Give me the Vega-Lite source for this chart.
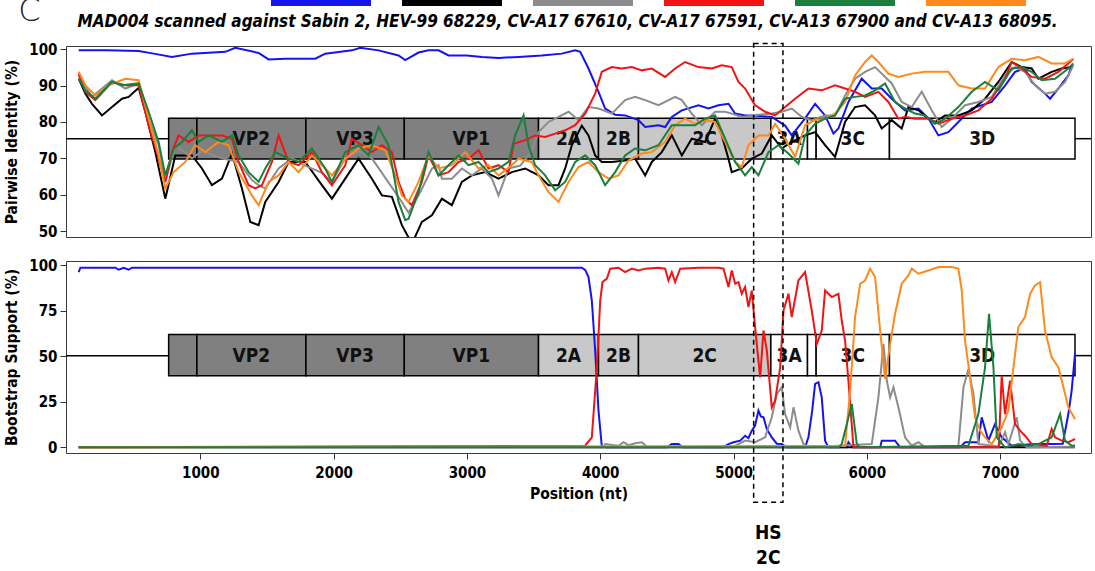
{
"$schema": "https://vega.github.io/schema/vega-lite/v6.json",
"padding": {"left": 4, "right": 2, "top": -5, "bottom": 4},
"title": {"text": "C", "anchor": "start", "frame": "bounds", "fontSize": 32, "fontWeight": 300, "font": "DejaVu Sans", "color": "#222", "dx": 14, "dy": 33, "offset": 0},
"spacing": 24,
"bounds": "flush",
"resolve": {"scale": {"x": "independent", "y": "independent"}},
"config": {
  "font": "DejaVu Sans Condensed",
  "view": {"stroke": "#3a3a3a", "strokeWidth": 1},
  "axis": {"grid": false, "domain": false, "labelFontSize": 15, "labelFontWeight": "bold", "labelColor": "#000", "titleFontSize": 15.5, "titleFontWeight": "bold", "titleColor": "#000", "tickColor": "#333", "tickSize": 6, "tickWidth": 1, "labelPadding": 3},
  "axisY": {"titlePadding": 9},
  "axisX": {"titlePadding": 6, "labelPadding": 6},
  "title": {"color": "#000"}
},
"datasets": {
  "genes": [
    {"gene": "VP4", "start": 762, "end": 974, "region": "P1"},
    {"gene": "VP2", "start": 974, "end": 1792, "region": "P1"},
    {"gene": "VP3", "start": 1792, "end": 2530, "region": "P1"},
    {"gene": "VP1", "start": 2530, "end": 3537, "region": "P1"},
    {"gene": "2A", "start": 3537, "end": 3987, "region": "P2"},
    {"gene": "2B", "start": 3987, "end": 4287, "region": "P2"},
    {"gene": "2C", "start": 4287, "end": 5280, "region": "P2"},
    {"gene": "3A", "start": 5280, "end": 5555, "region": "P3"},
    {"gene": "3B", "start": 5555, "end": 5620, "region": "P3"},
    {"gene": "3C", "start": 5620, "end": 6170, "region": "P3"},
    {"gene": "3D", "start": 6170, "end": 7562, "region": "P3"}
  ],
  "backbone": [{"from": -8, "to": 762}, {"from": 7562, "to": 7682}],
  "hotspot": [{"region": "HS 2C", "start": 5151, "end": 5371}],
  "identity": [
    {"series":"Sabin 2","nt":87,"pct":99.7},{"series":"Sabin 2","nt":300,"pct":99.7},{"series":"Sabin 2","nt":537,"pct":99.5},{"series":"Sabin 2","nt":650,"pct":98.8},{"series":"Sabin 2","nt":787,"pct":97.9},{"series":"Sabin 2","nt":937,"pct":98.8},{"series":"Sabin 2","nt":1187,"pct":99.3},{"series":"Sabin 2","nt":1262,"pct":100.4},{"series":"Sabin 2","nt":1437,"pct":99.0},{"series":"Sabin 2","nt":1512,"pct":97.2},{"series":"Sabin 2","nt":1637,"pct":97.4},{"series":"Sabin 2","nt":1862,"pct":97.4},{"series":"Sabin 2","nt":1937,"pct":98.8},{"series":"Sabin 2","nt":2137,"pct":99.7},{"series":"Sabin 2","nt":2200,"pct":100.4},{"series":"Sabin 2","nt":2337,"pct":99.7},{"series":"Sabin 2","nt":2487,"pct":98.3},{"series":"Sabin 2","nt":2537,"pct":97.0},{"series":"Sabin 2","nt":2637,"pct":99.1},{"series":"Sabin 2","nt":2712,"pct":99.7},{"series":"Sabin 2","nt":2787,"pct":99.7},{"series":"Sabin 2","nt":2862,"pct":98.3},{"series":"Sabin 2","nt":3000,"pct":98.3},{"series":"Sabin 2","nt":3112,"pct":97.9},{"series":"Sabin 2","nt":3237,"pct":97.6},{"series":"Sabin 2","nt":3387,"pct":97.9},{"series":"Sabin 2","nt":3562,"pct":98.3},{"series":"Sabin 2","nt":3712,"pct":98.8},{"series":"Sabin 2","nt":3812,"pct":99.7},{"series":"Sabin 2","nt":3850,"pct":99.3},{"series":"Sabin 2","nt":3912,"pct":94.7},{"series":"Sabin 2","nt":3987,"pct":88.3},{"series":"Sabin 2","nt":4037,"pct":83.7},{"series":"Sabin 2","nt":4112,"pct":82.0},{"series":"Sabin 2","nt":4187,"pct":81.8},{"series":"Sabin 2","nt":4287,"pct":80.5},{"series":"Sabin 2","nt":4337,"pct":78.6},{"series":"Sabin 2","nt":4437,"pct":79.1},{"series":"Sabin 2","nt":4487,"pct":78.6},{"series":"Sabin 2","nt":4537,"pct":81.4},{"series":"Sabin 2","nt":4612,"pct":83.2},{"series":"Sabin 2","nt":4737,"pct":84.6},{"series":"Sabin 2","nt":4812,"pct":83.7},{"series":"Sabin 2","nt":4887,"pct":84.6},{"series":"Sabin 2","nt":4962,"pct":85.0},{"series":"Sabin 2","nt":5012,"pct":82.3},{"series":"Sabin 2","nt":5087,"pct":81.8},{"series":"Sabin 2","nt":5137,"pct":81.8},{"series":"Sabin 2","nt":5287,"pct":81.4},{"series":"Sabin 2","nt":5387,"pct":79.0},{"series":"Sabin 2","nt":5437,"pct":76.3},{"series":"Sabin 2","nt":5537,"pct":81.0},{"series":"Sabin 2","nt":5612,"pct":85.0},{"series":"Sabin 2","nt":5687,"pct":81.8},{"series":"Sabin 2","nt":5750,"pct":76.8},{"series":"Sabin 2","nt":5787,"pct":78.2},{"series":"Sabin 2","nt":5862,"pct":85.5},{"series":"Sabin 2","nt":5962,"pct":91.9},{"series":"Sabin 2","nt":6037,"pct":89.2},{"series":"Sabin 2","nt":6112,"pct":89.2},{"series":"Sabin 2","nt":6187,"pct":86.4},{"series":"Sabin 2","nt":6287,"pct":83.2},{"series":"Sabin 2","nt":6387,"pct":83.7},{"series":"Sabin 2","nt":6462,"pct":81.0},{"series":"Sabin 2","nt":6537,"pct":76.3},{"series":"Sabin 2","nt":6612,"pct":77.2},{"series":"Sabin 2","nt":6687,"pct":80.0},{"series":"Sabin 2","nt":6787,"pct":83.7},{"series":"Sabin 2","nt":6937,"pct":85.5},{"series":"Sabin 2","nt":7037,"pct":90.0},{"series":"Sabin 2","nt":7112,"pct":93.8},{"series":"Sabin 2","nt":7187,"pct":94.7},{"series":"Sabin 2","nt":7237,"pct":91.0},{"series":"Sabin 2","nt":7337,"pct":87.8},{"series":"Sabin 2","nt":7375,"pct":86.4},{"series":"Sabin 2","nt":7437,"pct":89.2},{"series":"Sabin 2","nt":7512,"pct":92.8},{"series":"Sabin 2","nt":7537,"pct":95.6},

    {"series":"HEV-99 68229","nt":87,"pct":91.9},{"series":"HEV-99 68229","nt":137,"pct":87.8},{"series":"HEV-99 68229","nt":187,"pct":85.0},{"series":"HEV-99 68229","nt":262,"pct":81.8},{"series":"HEV-99 68229","nt":337,"pct":84.1},{"series":"HEV-99 68229","nt":412,"pct":86.4},{"series":"HEV-99 68229","nt":462,"pct":86.9},{"series":"HEV-99 68229","nt":537,"pct":89.4},{"series":"HEV-99 68229","nt":587,"pct":82.8},{"series":"HEV-99 68229","nt":662,"pct":71.7},{"series":"HEV-99 68229","nt":737,"pct":58.9},{"series":"HEV-99 68229","nt":812,"pct":70.8},{"series":"HEV-99 68229","nt":937,"pct":70.8},{"series":"HEV-99 68229","nt":1012,"pct":67.2},{"series":"HEV-99 68229","nt":1087,"pct":62.6},{"series":"HEV-99 68229","nt":1162,"pct":64.4},{"series":"HEV-99 68229","nt":1237,"pct":71.3},{"series":"HEV-99 68229","nt":1312,"pct":61.7},{"series":"HEV-99 68229","nt":1375,"pct":52.5},{"series":"HEV-99 68229","nt":1437,"pct":51.6},{"series":"HEV-99 68229","nt":1487,"pct":58.0},{"series":"HEV-99 68229","nt":1587,"pct":63.5},{"series":"HEV-99 68229","nt":1662,"pct":69.0},{"series":"HEV-99 68229","nt":1787,"pct":69.0},{"series":"HEV-99 68229","nt":1912,"pct":62.6},{"series":"HEV-99 68229","nt":1987,"pct":58.9},{"series":"HEV-99 68229","nt":2087,"pct":64.4},{"series":"HEV-99 68229","nt":2187,"pct":69.9},{"series":"HEV-99 68229","nt":2287,"pct":64.4},{"series":"HEV-99 68229","nt":2362,"pct":59.8},{"series":"HEV-99 68229","nt":2437,"pct":59.4},{"series":"HEV-99 68229","nt":2512,"pct":51.6},{"series":"HEV-99 68229","nt":2562,"pct":48.2},{"series":"HEV-99 68229","nt":2600,"pct":47.5},{"series":"HEV-99 68229","nt":2662,"pct":52.5},{"series":"HEV-99 68229","nt":2737,"pct":54.3},{"series":"HEV-99 68229","nt":2812,"pct":58.9},{"series":"HEV-99 68229","nt":2887,"pct":57.1},{"series":"HEV-99 68229","nt":2962,"pct":63.5},{"series":"HEV-99 68229","nt":3037,"pct":65.3},{"series":"HEV-99 68229","nt":3137,"pct":66.2},{"series":"HEV-99 68229","nt":3237,"pct":64.4},{"series":"HEV-99 68229","nt":3337,"pct":66.2},{"series":"HEV-99 68229","nt":3437,"pct":67.2},{"series":"HEV-99 68229","nt":3537,"pct":65.3},{"series":"HEV-99 68229","nt":3612,"pct":62.6},{"series":"HEV-99 68229","nt":3687,"pct":62.6},{"series":"HEV-99 68229","nt":3737,"pct":67.2},{"series":"HEV-99 68229","nt":3787,"pct":73.6},{"series":"HEV-99 68229","nt":3862,"pct":79.0},{"series":"HEV-99 68229","nt":3912,"pct":76.3},{"series":"HEV-99 68229","nt":3962,"pct":70.8},{"series":"HEV-99 68229","nt":4012,"pct":69.0},{"series":"HEV-99 68229","nt":4087,"pct":69.0},{"series":"HEV-99 68229","nt":4187,"pct":69.4},{"series":"HEV-99 68229","nt":4262,"pct":69.9},{"series":"HEV-99 68229","nt":4337,"pct":65.3},{"series":"HEV-99 68229","nt":4387,"pct":69.0},{"series":"HEV-99 68229","nt":4462,"pct":71.7},{"series":"HEV-99 68229","nt":4537,"pct":76.3},{"series":"HEV-99 68229","nt":4612,"pct":70.8},{"series":"HEV-99 68229","nt":4687,"pct":75.4},{"series":"HEV-99 68229","nt":4787,"pct":74.5},{"series":"HEV-99 68229","nt":4862,"pct":80.9},{"series":"HEV-99 68229","nt":4912,"pct":76.3},{"series":"HEV-99 68229","nt":4962,"pct":69.9},{"series":"HEV-99 68229","nt":4987,"pct":66.2},{"series":"HEV-99 68229","nt":5062,"pct":67.2},{"series":"HEV-99 68229","nt":5137,"pct":69.9},{"series":"HEV-99 68229","nt":5212,"pct":71.3},{"series":"HEV-99 68229","nt":5287,"pct":76.3},{"series":"HEV-99 68229","nt":5362,"pct":72.7},{"series":"HEV-99 68229","nt":5437,"pct":74.5},{"series":"HEV-99 68229","nt":5537,"pct":76.3},{"series":"HEV-99 68229","nt":5612,"pct":77.2},{"series":"HEV-99 68229","nt":5687,"pct":73.6},{"series":"HEV-99 68229","nt":5762,"pct":70.4},{"series":"HEV-99 68229","nt":5837,"pct":80.0},{"series":"HEV-99 68229","nt":5912,"pct":84.1},{"series":"HEV-99 68229","nt":5987,"pct":84.6},{"series":"HEV-99 68229","nt":6062,"pct":81.8},{"series":"HEV-99 68229","nt":6112,"pct":78.2},{"series":"HEV-99 68229","nt":6187,"pct":80.5},{"series":"HEV-99 68229","nt":6262,"pct":78.2},{"series":"HEV-99 68229","nt":6312,"pct":84.1},{"series":"HEV-99 68229","nt":6387,"pct":83.2},{"series":"HEV-99 68229","nt":6462,"pct":80.9},{"series":"HEV-99 68229","nt":6512,"pct":80.0},{"series":"HEV-99 68229","nt":6587,"pct":81.8},{"series":"HEV-99 68229","nt":6687,"pct":81.8},{"series":"HEV-99 68229","nt":6787,"pct":83.2},{"series":"HEV-99 68229","nt":6887,"pct":86.4},{"series":"HEV-99 68229","nt":6987,"pct":91.0},{"series":"HEV-99 68229","nt":7087,"pct":96.5},{"series":"HEV-99 68229","nt":7162,"pct":95.1},{"series":"HEV-99 68229","nt":7237,"pct":94.7},{"series":"HEV-99 68229","nt":7287,"pct":91.9},{"series":"HEV-99 68229","nt":7387,"pct":93.8},{"series":"HEV-99 68229","nt":7462,"pct":94.7},{"series":"HEV-99 68229","nt":7537,"pct":95.1},

    {"series":"CV-A17 67610","nt":87,"pct":92.8},{"series":"CV-A17 67610","nt":187,"pct":86.9},{"series":"CV-A17 67610","nt":337,"pct":91.5},{"series":"CV-A17 67610","nt":437,"pct":89.2},{"series":"CV-A17 67610","nt":537,"pct":90.6},{"series":"CV-A17 67610","nt":612,"pct":80.9},{"series":"CV-A17 67610","nt":687,"pct":73.6},{"series":"CV-A17 67610","nt":737,"pct":63.5},{"series":"CV-A17 67610","nt":812,"pct":73.6},{"series":"CV-A17 67610","nt":937,"pct":70.0},{"series":"CV-A17 67610","nt":1012,"pct":72.0},{"series":"CV-A17 67610","nt":1162,"pct":70.0},{"series":"CV-A17 67610","nt":1287,"pct":69.0},{"series":"CV-A17 67610","nt":1387,"pct":64.0},{"series":"CV-A17 67610","nt":1437,"pct":62.6},{"series":"CV-A17 67610","nt":1487,"pct":61.7},{"series":"CV-A17 67610","nt":1587,"pct":67.2},{"series":"CV-A17 67610","nt":1687,"pct":70.0},{"series":"CV-A17 67610","nt":1787,"pct":68.0},{"series":"CV-A17 67610","nt":1912,"pct":66.0},{"series":"CV-A17 67610","nt":1987,"pct":63.5},{"series":"CV-A17 67610","nt":2087,"pct":70.0},{"series":"CV-A17 67610","nt":2187,"pct":72.0},{"series":"CV-A17 67610","nt":2287,"pct":70.0},{"series":"CV-A17 67610","nt":2362,"pct":66.0},{"series":"CV-A17 67610","nt":2437,"pct":62.0},{"series":"CV-A17 67610","nt":2512,"pct":58.0},{"series":"CV-A17 67610","nt":2562,"pct":55.0},{"series":"CV-A17 67610","nt":2637,"pct":59.8},{"series":"CV-A17 67610","nt":2687,"pct":63.5},{"series":"CV-A17 67610","nt":2737,"pct":67.2},{"series":"CV-A17 67610","nt":2787,"pct":68.1},{"series":"CV-A17 67610","nt":2812,"pct":64.4},{"series":"CV-A17 67610","nt":2887,"pct":64.4},{"series":"CV-A17 67610","nt":2962,"pct":67.2},{"series":"CV-A17 67610","nt":3037,"pct":65.3},{"series":"CV-A17 67610","nt":3112,"pct":67.2},{"series":"CV-A17 67610","nt":3187,"pct":64.4},{"series":"CV-A17 67610","nt":3237,"pct":59.8},{"series":"CV-A17 67610","nt":3312,"pct":67.2},{"series":"CV-A17 67610","nt":3400,"pct":68.0},{"series":"CV-A17 67610","nt":3487,"pct":72.0},{"series":"CV-A17 67610","nt":3537,"pct":77.2},{"series":"CV-A17 67610","nt":3612,"pct":80.0},{"series":"CV-A17 67610","nt":3662,"pct":80.9},{"series":"CV-A17 67610","nt":3762,"pct":82.8},{"series":"CV-A17 67610","nt":3837,"pct":80.5},{"series":"CV-A17 67610","nt":3912,"pct":84.1},{"series":"CV-A17 67610","nt":3987,"pct":83.7},{"series":"CV-A17 67610","nt":4087,"pct":82.3},{"series":"CV-A17 67610","nt":4187,"pct":86.0},{"series":"CV-A17 67610","nt":4262,"pct":86.9},{"series":"CV-A17 67610","nt":4337,"pct":86.0},{"series":"CV-A17 67610","nt":4437,"pct":84.6},{"series":"CV-A17 67610","nt":4562,"pct":86.9},{"series":"CV-A17 67610","nt":4612,"pct":86.0},{"series":"CV-A17 67610","nt":4687,"pct":82.3},{"series":"CV-A17 67610","nt":4762,"pct":79.1},{"series":"CV-A17 67610","nt":4862,"pct":82.8},{"series":"CV-A17 67610","nt":4937,"pct":82.8},{"series":"CV-A17 67610","nt":4987,"pct":82.3},{"series":"CV-A17 67610","nt":5062,"pct":81.4},{"series":"CV-A17 67610","nt":5187,"pct":82.0},{"series":"CV-A17 67610","nt":5287,"pct":82.3},{"series":"CV-A17 67610","nt":5362,"pct":82.8},{"series":"CV-A17 67610","nt":5437,"pct":83.7},{"series":"CV-A17 67610","nt":5512,"pct":81.4},{"series":"CV-A17 67610","nt":5587,"pct":80.5},{"series":"CV-A17 67610","nt":5687,"pct":81.8},{"series":"CV-A17 67610","nt":5762,"pct":81.8},{"series":"CV-A17 67610","nt":5837,"pct":87.3},{"series":"CV-A17 67610","nt":5912,"pct":91.9},{"series":"CV-A17 67610","nt":5987,"pct":93.8},{"series":"CV-A17 67610","nt":6062,"pct":95.1},{"series":"CV-A17 67610","nt":6112,"pct":93.3},{"series":"CV-A17 67610","nt":6187,"pct":90.6},{"series":"CV-A17 67610","nt":6262,"pct":85.5},{"series":"CV-A17 67610","nt":6337,"pct":84.1},{"series":"CV-A17 67610","nt":6412,"pct":88.3},{"series":"CV-A17 67610","nt":6487,"pct":83.2},{"series":"CV-A17 67610","nt":6562,"pct":78.6},{"series":"CV-A17 67610","nt":6637,"pct":80.9},{"series":"CV-A17 67610","nt":6737,"pct":84.6},{"series":"CV-A17 67610","nt":6837,"pct":85.5},{"series":"CV-A17 67610","nt":6937,"pct":86.9},{"series":"CV-A17 67610","nt":7037,"pct":92.8},{"series":"CV-A17 67610","nt":7112,"pct":95.1},{"series":"CV-A17 67610","nt":7187,"pct":93.8},{"series":"CV-A17 67610","nt":7262,"pct":90.1},{"series":"CV-A17 67610","nt":7337,"pct":87.8},{"series":"CV-A17 67610","nt":7412,"pct":88.3},{"series":"CV-A17 67610","nt":7487,"pct":91.0},{"series":"CV-A17 67610","nt":7550,"pct":95.6},

    {"series":"CV-A17 67591","nt":87,"pct":93.3},{"series":"CV-A17 67591","nt":137,"pct":88.3},{"series":"CV-A17 67591","nt":212,"pct":86.0},{"series":"CV-A17 67591","nt":337,"pct":91.0},{"series":"CV-A17 67591","nt":437,"pct":90.1},{"series":"CV-A17 67591","nt":537,"pct":90.1},{"series":"CV-A17 67591","nt":612,"pct":79.1},{"series":"CV-A17 67591","nt":687,"pct":69.9},{"series":"CV-A17 67591","nt":737,"pct":63.5},{"series":"CV-A17 67591","nt":787,"pct":71.7},{"series":"CV-A17 67591","nt":837,"pct":76.3},{"series":"CV-A17 67591","nt":912,"pct":74.5},{"series":"CV-A17 67591","nt":987,"pct":76.3},{"series":"CV-A17 67591","nt":1087,"pct":76.3},{"series":"CV-A17 67591","nt":1162,"pct":76.3},{"series":"CV-A17 67591","nt":1237,"pct":75.4},{"series":"CV-A17 67591","nt":1287,"pct":69.0},{"series":"CV-A17 67591","nt":1362,"pct":62.6},{"series":"CV-A17 67591","nt":1412,"pct":61.7},{"series":"CV-A17 67591","nt":1462,"pct":62.6},{"series":"CV-A17 67591","nt":1537,"pct":69.0},{"series":"CV-A17 67591","nt":1587,"pct":76.3},{"series":"CV-A17 67591","nt":1662,"pct":69.0},{"series":"CV-A17 67591","nt":1737,"pct":68.1},{"series":"CV-A17 67591","nt":1837,"pct":71.7},{"series":"CV-A17 67591","nt":1912,"pct":66.2},{"series":"CV-A17 67591","nt":1987,"pct":62.6},{"series":"CV-A17 67591","nt":2087,"pct":68.1},{"series":"CV-A17 67591","nt":2137,"pct":75.4},{"series":"CV-A17 67591","nt":2212,"pct":73.6},{"series":"CV-A17 67591","nt":2287,"pct":71.7},{"series":"CV-A17 67591","nt":2362,"pct":73.6},{"series":"CV-A17 67591","nt":2437,"pct":71.7},{"series":"CV-A17 67591","nt":2487,"pct":63.5},{"series":"CV-A17 67591","nt":2537,"pct":58.9},{"series":"CV-A17 67591","nt":2587,"pct":57.1},{"series":"CV-A17 67591","nt":2662,"pct":63.5},{"series":"CV-A17 67591","nt":2712,"pct":70.8},{"series":"CV-A17 67591","nt":2787,"pct":65.3},{"series":"CV-A17 67591","nt":2862,"pct":66.2},{"series":"CV-A17 67591","nt":2937,"pct":69.0},{"series":"CV-A17 67591","nt":3012,"pct":69.9},{"series":"CV-A17 67591","nt":3087,"pct":72.2},{"series":"CV-A17 67591","nt":3162,"pct":67.2},{"series":"CV-A17 67591","nt":3237,"pct":68.1},{"series":"CV-A17 67591","nt":3312,"pct":66.2},{"series":"CV-A17 67591","nt":3350,"pct":74.0},{"series":"CV-A17 67591","nt":3437,"pct":75.0},{"series":"CV-A17 67591","nt":3512,"pct":76.3},{"series":"CV-A17 67591","nt":3587,"pct":75.9},{"series":"CV-A17 67591","nt":3662,"pct":76.8},{"series":"CV-A17 67591","nt":3737,"pct":77.7},{"series":"CV-A17 67591","nt":3812,"pct":79.1},{"series":"CV-A17 67591","nt":3887,"pct":82.3},{"series":"CV-A17 67591","nt":3962,"pct":87.8},{"series":"CV-A17 67591","nt":4012,"pct":93.8},{"series":"CV-A17 67591","nt":4087,"pct":95.1},{"series":"CV-A17 67591","nt":4162,"pct":94.7},{"series":"CV-A17 67591","nt":4237,"pct":95.1},{"series":"CV-A17 67591","nt":4312,"pct":94.2},{"series":"CV-A17 67591","nt":4387,"pct":94.7},{"series":"CV-A17 67591","nt":4487,"pct":92.4},{"series":"CV-A17 67591","nt":4562,"pct":94.7},{"series":"CV-A17 67591","nt":4637,"pct":96.5},{"series":"CV-A17 67591","nt":4737,"pct":95.1},{"series":"CV-A17 67591","nt":4837,"pct":94.7},{"series":"CV-A17 67591","nt":4912,"pct":95.6},{"series":"CV-A17 67591","nt":4987,"pct":95.1},{"series":"CV-A17 67591","nt":5037,"pct":91.0},{"series":"CV-A17 67591","nt":5087,"pct":89.2},{"series":"CV-A17 67591","nt":5162,"pct":84.6},{"series":"CV-A17 67591","nt":5237,"pct":82.8},{"series":"CV-A17 67591","nt":5312,"pct":81.8},{"series":"CV-A17 67591","nt":5387,"pct":84.1},{"series":"CV-A17 67591","nt":5462,"pct":86.4},{"series":"CV-A17 67591","nt":5562,"pct":89.2},{"series":"CV-A17 67591","nt":5662,"pct":88.7},{"series":"CV-A17 67591","nt":5762,"pct":90.1},{"series":"CV-A17 67591","nt":5837,"pct":89.2},{"series":"CV-A17 67591","nt":5912,"pct":88.3},{"series":"CV-A17 67591","nt":5987,"pct":86.9},{"series":"CV-A17 67591","nt":6087,"pct":88.3},{"series":"CV-A17 67591","nt":6162,"pct":85.5},{"series":"CV-A17 67591","nt":6237,"pct":80.9},{"series":"CV-A17 67591","nt":6287,"pct":81.4},{"series":"CV-A17 67591","nt":6362,"pct":80.9},{"series":"CV-A17 67591","nt":6462,"pct":80.9},{"series":"CV-A17 67591","nt":6537,"pct":79.5},{"series":"CV-A17 67591","nt":6637,"pct":80.9},{"series":"CV-A17 67591","nt":6737,"pct":81.8},{"series":"CV-A17 67591","nt":6837,"pct":83.2},{"series":"CV-A17 67591","nt":6937,"pct":86.4},{"series":"CV-A17 67591","nt":7037,"pct":91.9},{"series":"CV-A17 67591","nt":7087,"pct":96.5},{"series":"CV-A17 67591","nt":7162,"pct":94.7},{"series":"CV-A17 67591","nt":7237,"pct":92.4},{"series":"CV-A17 67591","nt":7337,"pct":91.9},{"series":"CV-A17 67591","nt":7437,"pct":93.8},{"series":"CV-A17 67591","nt":7512,"pct":96.1},{"series":"CV-A17 67591","nt":7550,"pct":97.4},

    {"series":"CV-A13 68095","nt":87,"pct":93.8},{"series":"CV-A13 68095","nt":137,"pct":90.1},{"series":"CV-A13 68095","nt":212,"pct":87.3},{"series":"CV-A13 68095","nt":312,"pct":90.1},{"series":"CV-A13 68095","nt":437,"pct":91.9},{"series":"CV-A13 68095","nt":537,"pct":91.5},{"series":"CV-A13 68095","nt":612,"pct":80.9},{"series":"CV-A13 68095","nt":687,"pct":70.8},{"series":"CV-A13 68095","nt":737,"pct":61.7},{"series":"CV-A13 68095","nt":800,"pct":66.2},{"series":"CV-A13 68095","nt":887,"pct":69.0},{"series":"CV-A13 68095","nt":962,"pct":73.6},{"series":"CV-A13 68095","nt":1037,"pct":71.7},{"series":"CV-A13 68095","nt":1137,"pct":74.5},{"series":"CV-A13 68095","nt":1212,"pct":73.6},{"series":"CV-A13 68095","nt":1287,"pct":66.2},{"series":"CV-A13 68095","nt":1387,"pct":59.8},{"series":"CV-A13 68095","nt":1437,"pct":57.1},{"series":"CV-A13 68095","nt":1512,"pct":63.5},{"series":"CV-A13 68095","nt":1587,"pct":65.3},{"series":"CV-A13 68095","nt":1662,"pct":69.0},{"series":"CV-A13 68095","nt":1737,"pct":66.2},{"series":"CV-A13 68095","nt":1837,"pct":70.8},{"series":"CV-A13 68095","nt":1937,"pct":67.2},{"series":"CV-A13 68095","nt":1987,"pct":65.3},{"series":"CV-A13 68095","nt":2087,"pct":69.9},{"series":"CV-A13 68095","nt":2187,"pct":72.7},{"series":"CV-A13 68095","nt":2287,"pct":73.6},{"series":"CV-A13 68095","nt":2387,"pct":72.2},{"series":"CV-A13 68095","nt":2462,"pct":65.3},{"series":"CV-A13 68095","nt":2512,"pct":59.8},{"series":"CV-A13 68095","nt":2562,"pct":58.0},{"series":"CV-A13 68095","nt":2637,"pct":63.5},{"series":"CV-A13 68095","nt":2712,"pct":70.8},{"series":"CV-A13 68095","nt":2787,"pct":67.2},{"series":"CV-A13 68095","nt":2887,"pct":68.1},{"series":"CV-A13 68095","nt":2987,"pct":71.7},{"series":"CV-A13 68095","nt":3087,"pct":67.2},{"series":"CV-A13 68095","nt":3162,"pct":68.1},{"series":"CV-A13 68095","nt":3237,"pct":65.3},{"series":"CV-A13 68095","nt":3337,"pct":68.1},{"series":"CV-A13 68095","nt":3387,"pct":69.9},{"series":"CV-A13 68095","nt":3487,"pct":69.0},{"series":"CV-A13 68095","nt":3537,"pct":65.3},{"series":"CV-A13 68095","nt":3612,"pct":60.7},{"series":"CV-A13 68095","nt":3687,"pct":58.0},{"series":"CV-A13 68095","nt":3762,"pct":63.5},{"series":"CV-A13 68095","nt":3837,"pct":67.6},{"series":"CV-A13 68095","nt":3912,"pct":69.0},{"series":"CV-A13 68095","nt":3987,"pct":66.2},{"series":"CV-A13 68095","nt":4062,"pct":64.4},{"series":"CV-A13 68095","nt":4137,"pct":65.3},{"series":"CV-A13 68095","nt":4212,"pct":69.4},{"series":"CV-A13 68095","nt":4312,"pct":71.3},{"series":"CV-A13 68095","nt":4387,"pct":71.7},{"series":"CV-A13 68095","nt":4487,"pct":74.5},{"series":"CV-A13 68095","nt":4562,"pct":79.1},{"series":"CV-A13 68095","nt":4637,"pct":80.9},{"series":"CV-A13 68095","nt":4712,"pct":79.5},{"series":"CV-A13 68095","nt":4787,"pct":80.5},{"series":"CV-A13 68095","nt":4862,"pct":80.0},{"series":"CV-A13 68095","nt":4937,"pct":74.5},{"series":"CV-A13 68095","nt":5012,"pct":69.0},{"series":"CV-A13 68095","nt":5062,"pct":67.6},{"series":"CV-A13 68095","nt":5112,"pct":73.6},{"series":"CV-A13 68095","nt":5187,"pct":76.3},{"series":"CV-A13 68095","nt":5262,"pct":76.3},{"series":"CV-A13 68095","nt":5312,"pct":79.5},{"series":"CV-A13 68095","nt":5387,"pct":75.4},{"series":"CV-A13 68095","nt":5462,"pct":70.4},{"series":"CV-A13 68095","nt":5537,"pct":79.1},{"series":"CV-A13 68095","nt":5612,"pct":80.5},{"series":"CV-A13 68095","nt":5687,"pct":80.9},{"series":"CV-A13 68095","nt":5762,"pct":82.3},{"series":"CV-A13 68095","nt":5837,"pct":85.5},{"series":"CV-A13 68095","nt":5912,"pct":92.8},{"series":"CV-A13 68095","nt":5987,"pct":96.5},{"series":"CV-A13 68095","nt":6037,"pct":98.3},{"series":"CV-A13 68095","nt":6087,"pct":96.5},{"series":"CV-A13 68095","nt":6162,"pct":93.3},{"series":"CV-A13 68095","nt":6237,"pct":92.4},{"series":"CV-A13 68095","nt":6337,"pct":93.3},{"series":"CV-A13 68095","nt":6437,"pct":93.8},{"series":"CV-A13 68095","nt":6537,"pct":93.8},{"series":"CV-A13 68095","nt":6612,"pct":93.8},{"series":"CV-A13 68095","nt":6687,"pct":90.1},{"series":"CV-A13 68095","nt":6787,"pct":89.2},{"series":"CV-A13 68095","nt":6887,"pct":89.2},{"series":"CV-A13 68095","nt":6987,"pct":95.1},{"series":"CV-A13 68095","nt":7087,"pct":97.4},{"series":"CV-A13 68095","nt":7187,"pct":97.0},{"series":"CV-A13 68095","nt":7287,"pct":97.9},{"series":"CV-A13 68095","nt":7387,"pct":96.1},{"series":"CV-A13 68095","nt":7487,"pct":96.1},{"series":"CV-A13 68095","nt":7550,"pct":97.4},

    {"series":"CV-A13 67900","nt":87,"pct":91.9},{"series":"CV-A13 67900","nt":137,"pct":88.7},{"series":"CV-A13 67900","nt":212,"pct":86.4},{"series":"CV-A13 67900","nt":337,"pct":91.0},{"series":"CV-A13 67900","nt":412,"pct":90.1},{"series":"CV-A13 67900","nt":537,"pct":90.6},{"series":"CV-A13 67900","nt":612,"pct":82.8},{"series":"CV-A13 67900","nt":687,"pct":74.5},{"series":"CV-A13 67900","nt":737,"pct":65.3},{"series":"CV-A13 67900","nt":800,"pct":72.7},{"series":"CV-A13 67900","nt":862,"pct":74.5},{"series":"CV-A13 67900","nt":937,"pct":77.7},{"series":"CV-A13 67900","nt":987,"pct":74.5},{"series":"CV-A13 67900","nt":1062,"pct":76.3},{"series":"CV-A13 67900","nt":1162,"pct":74.5},{"series":"CV-A13 67900","nt":1237,"pct":76.3},{"series":"CV-A13 67900","nt":1287,"pct":70.8},{"series":"CV-A13 67900","nt":1362,"pct":66.2},{"series":"CV-A13 67900","nt":1437,"pct":63.5},{"series":"CV-A13 67900","nt":1487,"pct":67.2},{"series":"CV-A13 67900","nt":1562,"pct":71.7},{"series":"CV-A13 67900","nt":1662,"pct":69.9},{"series":"CV-A13 67900","nt":1737,"pct":69.0},{"series":"CV-A13 67900","nt":1837,"pct":72.7},{"series":"CV-A13 67900","nt":1937,"pct":67.2},{"series":"CV-A13 67900","nt":1987,"pct":63.5},{"series":"CV-A13 67900","nt":2087,"pct":71.7},{"series":"CV-A13 67900","nt":2187,"pct":73.6},{"series":"CV-A13 67900","nt":2262,"pct":70.8},{"series":"CV-A13 67900","nt":2337,"pct":78.6},{"series":"CV-A13 67900","nt":2412,"pct":73.6},{"series":"CV-A13 67900","nt":2487,"pct":58.0},{"series":"CV-A13 67900","nt":2537,"pct":53.0},{"series":"CV-A13 67900","nt":2562,"pct":53.4},{"series":"CV-A13 67900","nt":2637,"pct":60.7},{"series":"CV-A13 67900","nt":2712,"pct":71.7},{"series":"CV-A13 67900","nt":2787,"pct":65.3},{"series":"CV-A13 67900","nt":2862,"pct":68.1},{"series":"CV-A13 67900","nt":2937,"pct":70.8},{"series":"CV-A13 67900","nt":3012,"pct":68.1},{"series":"CV-A13 67900","nt":3087,"pct":69.0},{"series":"CV-A13 67900","nt":3162,"pct":66.2},{"series":"CV-A13 67900","nt":3237,"pct":67.2},{"series":"CV-A13 67900","nt":3312,"pct":69.0},{"series":"CV-A13 67900","nt":3362,"pct":76.3},{"series":"CV-A13 67900","nt":3425,"pct":81.8},{"series":"CV-A13 67900","nt":3462,"pct":73.6},{"series":"CV-A13 67900","nt":3512,"pct":68.1},{"series":"CV-A13 67900","nt":3587,"pct":65.3},{"series":"CV-A13 67900","nt":3662,"pct":61.2},{"series":"CV-A13 67900","nt":3737,"pct":63.5},{"series":"CV-A13 67900","nt":3812,"pct":69.0},{"series":"CV-A13 67900","nt":3887,"pct":70.8},{"series":"CV-A13 67900","nt":3962,"pct":68.1},{"series":"CV-A13 67900","nt":4037,"pct":62.6},{"series":"CV-A13 67900","nt":4112,"pct":66.2},{"series":"CV-A13 67900","nt":4187,"pct":70.8},{"series":"CV-A13 67900","nt":4262,"pct":72.7},{"series":"CV-A13 67900","nt":4337,"pct":72.2},{"series":"CV-A13 67900","nt":4437,"pct":73.6},{"series":"CV-A13 67900","nt":4537,"pct":79.1},{"series":"CV-A13 67900","nt":4637,"pct":79.1},{"series":"CV-A13 67900","nt":4712,"pct":79.1},{"series":"CV-A13 67900","nt":4787,"pct":80.9},{"series":"CV-A13 67900","nt":4862,"pct":81.8},{"series":"CV-A13 67900","nt":4937,"pct":75.4},{"series":"CV-A13 67900","nt":5012,"pct":69.0},{"series":"CV-A13 67900","nt":5087,"pct":65.3},{"series":"CV-A13 67900","nt":5137,"pct":67.6},{"series":"CV-A13 67900","nt":5187,"pct":65.3},{"series":"CV-A13 67900","nt":5262,"pct":71.7},{"series":"CV-A13 67900","nt":5337,"pct":73.6},{"series":"CV-A13 67900","nt":5412,"pct":71.3},{"series":"CV-A13 67900","nt":5487,"pct":68.5},{"series":"CV-A13 67900","nt":5537,"pct":76.3},{"series":"CV-A13 67900","nt":5612,"pct":79.5},{"series":"CV-A13 67900","nt":5687,"pct":80.9},{"series":"CV-A13 67900","nt":5762,"pct":81.8},{"series":"CV-A13 67900","nt":5837,"pct":86.4},{"series":"CV-A13 67900","nt":5912,"pct":86.9},{"series":"CV-A13 67900","nt":5987,"pct":87.3},{"series":"CV-A13 67900","nt":6062,"pct":88.7},{"series":"CV-A13 67900","nt":6137,"pct":90.6},{"series":"CV-A13 67900","nt":6212,"pct":85.5},{"series":"CV-A13 67900","nt":6287,"pct":83.7},{"series":"CV-A13 67900","nt":6362,"pct":82.3},{"series":"CV-A13 67900","nt":6437,"pct":81.8},{"series":"CV-A13 67900","nt":6512,"pct":79.5},{"series":"CV-A13 67900","nt":6587,"pct":80.9},{"series":"CV-A13 67900","nt":6687,"pct":84.1},{"series":"CV-A13 67900","nt":6787,"pct":88.3},{"series":"CV-A13 67900","nt":6887,"pct":91.0},{"series":"CV-A13 67900","nt":6987,"pct":88.7},{"series":"CV-A13 67900","nt":7087,"pct":94.7},{"series":"CV-A13 67900","nt":7162,"pct":95.1},{"series":"CV-A13 67900","nt":7237,"pct":93.8},{"series":"CV-A13 67900","nt":7312,"pct":91.5},{"series":"CV-A13 67900","nt":7412,"pct":91.9},{"series":"CV-A13 67900","nt":7512,"pct":94.7},{"series":"CV-A13 67900","nt":7550,"pct":96.1}
  ],
  "bootstrap": [
    {"series":"Sabin 2","nt":87,"pct":96.3},{"series":"Sabin 2","nt":100,"pct":98.7},{"series":"Sabin 2","nt":362,"pct":98.7},{"series":"Sabin 2","nt":387,"pct":97.6},{"series":"Sabin 2","nt":425,"pct":98.7},{"series":"Sabin 2","nt":462,"pct":97.6},{"series":"Sabin 2","nt":487,"pct":98.7},{"series":"Sabin 2","nt":3862,"pct":98.7},{"series":"Sabin 2","nt":3887,"pct":97.5},{"series":"Sabin 2","nt":3912,"pct":93.6},{"series":"Sabin 2","nt":3937,"pct":80.7},{"series":"Sabin 2","nt":3962,"pct":53.2},{"series":"Sabin 2","nt":3987,"pct":20.2},{"series":"Sabin 2","nt":4012,"pct":0.5},{"series":"Sabin 2","nt":4050,"pct":0},{"series":"Sabin 2","nt":4500,"pct":0},{"series":"Sabin 2","nt":4537,"pct":1.8},{"series":"Sabin 2","nt":4587,"pct":1.8},{"series":"Sabin 2","nt":4620,"pct":0},{"series":"Sabin 2","nt":4920,"pct":0},{"series":"Sabin 2","nt":4962,"pct":1.8},{"series":"Sabin 2","nt":5000,"pct":2.8},{"series":"Sabin 2","nt":5050,"pct":3.7},{"series":"Sabin 2","nt":5087,"pct":6.4},{"series":"Sabin 2","nt":5112,"pct":5},{"series":"Sabin 2","nt":5137,"pct":9.2},{"series":"Sabin 2","nt":5162,"pct":12},{"series":"Sabin 2","nt":5187,"pct":20.2},{"series":"Sabin 2","nt":5205,"pct":17},{"series":"Sabin 2","nt":5225,"pct":16.5},{"series":"Sabin 2","nt":5250,"pct":10},{"series":"Sabin 2","nt":5287,"pct":5.5},{"series":"Sabin 2","nt":5325,"pct":2},{"series":"Sabin 2","nt":5362,"pct":1.8},{"series":"Sabin 2","nt":5400,"pct":0},{"series":"Sabin 2","nt":5537,"pct":0},{"series":"Sabin 2","nt":5562,"pct":5.5},{"series":"Sabin 2","nt":5590,"pct":20},{"series":"Sabin 2","nt":5612,"pct":34.9},{"series":"Sabin 2","nt":5637,"pct":35.8},{"series":"Sabin 2","nt":5662,"pct":27.5},{"series":"Sabin 2","nt":5687,"pct":3.7},{"series":"Sabin 2","nt":5712,"pct":0},{"series":"Sabin 2","nt":5850,"pct":0},{"series":"Sabin 2","nt":5862,"pct":2.8},{"series":"Sabin 2","nt":5890,"pct":0},{"series":"Sabin 2","nt":6100,"pct":0},{"series":"Sabin 2","nt":6112,"pct":3.7},{"series":"Sabin 2","nt":6212,"pct":3.7},{"series":"Sabin 2","nt":6250,"pct":0},{"series":"Sabin 2","nt":6700,"pct":0},{"series":"Sabin 2","nt":6737,"pct":2.8},{"series":"Sabin 2","nt":6837,"pct":2.8},{"series":"Sabin 2","nt":6862,"pct":16.5},{"series":"Sabin 2","nt":6912,"pct":3.7},{"series":"Sabin 2","nt":6962,"pct":12.8},{"series":"Sabin 2","nt":7012,"pct":5.5},{"series":"Sabin 2","nt":7087,"pct":0.9},{"series":"Sabin 2","nt":7250,"pct":1.8},{"series":"Sabin 2","nt":7400,"pct":1.8},{"series":"Sabin 2","nt":7470,"pct":2},{"series":"Sabin 2","nt":7512,"pct":18.3},{"series":"Sabin 2","nt":7537,"pct":31.2},{"series":"Sabin 2","nt":7562,"pct":51.4},
    {"series":"HEV-99 68229","nt":87,"pct":0},{"series":"HEV-99 68229","nt":7562,"pct":0},
    {"series":"CV-A17 67610","nt":87,"pct":0},{"series":"CV-A17 67610","nt":4020,"pct":0},{"series":"CV-A17 67610","nt":4037,"pct":1.8},{"series":"CV-A17 67610","nt":4137,"pct":0.9},{"series":"CV-A17 67610","nt":4175,"pct":2.8},{"series":"CV-A17 67610","nt":4212,"pct":1.2},{"series":"CV-A17 67610","nt":4262,"pct":2.3},{"series":"CV-A17 67610","nt":4312,"pct":2.8},{"series":"CV-A17 67610","nt":4350,"pct":0.4},{"series":"CV-A17 67610","nt":4990,"pct":0},{"series":"CV-A17 67610","nt":5037,"pct":1.8},{"series":"CV-A17 67610","nt":5087,"pct":3.7},{"series":"CV-A17 67610","nt":5162,"pct":2.8},{"series":"CV-A17 67610","nt":5237,"pct":5.5},{"series":"CV-A17 67610","nt":5287,"pct":16.5},{"series":"CV-A17 67610","nt":5325,"pct":29.4},{"series":"CV-A17 67610","nt":5362,"pct":33.0},{"series":"CV-A17 67610","nt":5387,"pct":18.3},{"series":"CV-A17 67610","nt":5425,"pct":11.0},{"series":"CV-A17 67610","nt":5450,"pct":22.0},{"series":"CV-A17 67610","nt":5487,"pct":9.2},{"series":"CV-A17 67610","nt":5525,"pct":1.8},{"series":"CV-A17 67610","nt":5562,"pct":0},{"series":"CV-A17 67610","nt":6037,"pct":1.8},{"series":"CV-A17 67610","nt":6087,"pct":27.5},{"series":"CV-A17 67610","nt":6125,"pct":56.9},{"series":"CV-A17 67610","nt":6150,"pct":36.7},{"series":"CV-A17 67610","nt":6175,"pct":27.5},{"series":"CV-A17 67610","nt":6200,"pct":33.0},{"series":"CV-A17 67610","nt":6237,"pct":22.0},{"series":"CV-A17 67610","nt":6287,"pct":5.5},{"series":"CV-A17 67610","nt":6337,"pct":0.9},{"series":"CV-A17 67610","nt":6387,"pct":2.8},{"series":"CV-A17 67610","nt":6437,"pct":0},{"series":"CV-A17 67610","nt":6687,"pct":0.9},{"series":"CV-A17 67610","nt":6725,"pct":33.0},{"series":"CV-A17 67610","nt":6762,"pct":43.1},{"series":"CV-A17 67610","nt":6800,"pct":29.4},{"series":"CV-A17 67610","nt":6837,"pct":1.8},{"series":"CV-A17 67610","nt":6990,"pct":0.5},{"series":"CV-A17 67610","nt":7037,"pct":8.3},{"series":"CV-A17 67610","nt":7062,"pct":1.8},{"series":"CV-A17 67610","nt":7125,"pct":16.5},{"series":"CV-A17 67610","nt":7150,"pct":3.7},{"series":"CV-A17 67610","nt":7200,"pct":0},{"series":"CV-A17 67610","nt":7562,"pct":0.4},
    {"series":"CV-A17 67591","nt":87,"pct":0},{"series":"CV-A17 67591","nt":3887,"pct":0.9},{"series":"CV-A17 67591","nt":3937,"pct":5.5},{"series":"CV-A17 67591","nt":3975,"pct":44},{"series":"CV-A17 67591","nt":4000,"pct":80.7},{"series":"CV-A17 67591","nt":4017,"pct":90.8},{"series":"CV-A17 67591","nt":4050,"pct":92.7},{"series":"CV-A17 67591","nt":4075,"pct":98.2},{"series":"CV-A17 67591","nt":4137,"pct":98.7},{"series":"CV-A17 67591","nt":4187,"pct":96.3},{"series":"CV-A17 67591","nt":4237,"pct":98.2},{"series":"CV-A17 67591","nt":4287,"pct":97.2},{"series":"CV-A17 67591","nt":4337,"pct":98.2},{"series":"CV-A17 67591","nt":4437,"pct":98.7},{"series":"CV-A17 67591","nt":4487,"pct":98.2},{"series":"CV-A17 67591","nt":4512,"pct":91.7},{"series":"CV-A17 67591","nt":4537,"pct":96.3},{"series":"CV-A17 67591","nt":4562,"pct":90.8},{"series":"CV-A17 67591","nt":4600,"pct":98.2},{"series":"CV-A17 67591","nt":4737,"pct":98.7},{"series":"CV-A17 67591","nt":4887,"pct":98.7},{"series":"CV-A17 67591","nt":4925,"pct":98.2},{"series":"CV-A17 67591","nt":4962,"pct":88.1},{"series":"CV-A17 67591","nt":4987,"pct":97.2},{"series":"CV-A17 67591","nt":5012,"pct":90},{"series":"CV-A17 67591","nt":5037,"pct":90.8},{"series":"CV-A17 67591","nt":5062,"pct":84.4},{"series":"CV-A17 67591","nt":5087,"pct":88.1},{"series":"CV-A17 67591","nt":5112,"pct":77.1},{"series":"CV-A17 67591","nt":5137,"pct":86.2},{"series":"CV-A17 67591","nt":5162,"pct":66.1},{"series":"CV-A17 67591","nt":5187,"pct":47.7},{"series":"CV-A17 67591","nt":5200,"pct":38.5},{"series":"CV-A17 67591","nt":5225,"pct":64.2},{"series":"CV-A17 67591","nt":5250,"pct":53.2},{"series":"CV-A17 67591","nt":5287,"pct":22.0},{"series":"CV-A17 67591","nt":5312,"pct":25.7},{"series":"CV-A17 67591","nt":5350,"pct":44.0},{"series":"CV-A17 67591","nt":5375,"pct":75.2},{"series":"CV-A17 67591","nt":5412,"pct":84.4},{"series":"CV-A17 67591","nt":5437,"pct":71.6},{"series":"CV-A17 67591","nt":5487,"pct":91.7},{"series":"CV-A17 67591","nt":5537,"pct":96.3},{"series":"CV-A17 67591","nt":5587,"pct":75.2},{"series":"CV-A17 67591","nt":5625,"pct":56.9},{"series":"CV-A17 67591","nt":5662,"pct":64.2},{"series":"CV-A17 67591","nt":5687,"pct":86.2},{"series":"CV-A17 67591","nt":5737,"pct":82.6},{"series":"CV-A17 67591","nt":5787,"pct":84.4},{"series":"CV-A17 67591","nt":5812,"pct":69.7},{"series":"CV-A17 67591","nt":5837,"pct":58.7},{"series":"CV-A17 67591","nt":5862,"pct":36.7},{"series":"CV-A17 67591","nt":5900,"pct":0},{"series":"CV-A17 67591","nt":6990,"pct":0},{"series":"CV-A17 67591","nt":7012,"pct":39.4},{"series":"CV-A17 67591","nt":7037,"pct":18.3},{"series":"CV-A17 67591","nt":7075,"pct":36.7},{"series":"CV-A17 67591","nt":7112,"pct":12.8},{"series":"CV-A17 67591","nt":7150,"pct":9.2},{"series":"CV-A17 67591","nt":7187,"pct":6.4},{"series":"CV-A17 67591","nt":7237,"pct":1.8},{"series":"CV-A17 67591","nt":7350,"pct":0.9},{"series":"CV-A17 67591","nt":7387,"pct":10.1},{"series":"CV-A17 67591","nt":7412,"pct":5.5},{"series":"CV-A17 67591","nt":7462,"pct":3.7},{"series":"CV-A17 67591","nt":7512,"pct":2.8},{"series":"CV-A17 67591","nt":7537,"pct":3.7},{"series":"CV-A17 67591","nt":7562,"pct":4.6},
    {"series":"CV-A13 68095","nt":87,"pct":0},{"series":"CV-A13 68095","nt":5837,"pct":0.9},{"series":"CV-A13 68095","nt":5875,"pct":31.2},{"series":"CV-A13 68095","nt":5912,"pct":71.6},{"series":"CV-A13 68095","nt":5950,"pct":89.9},{"series":"CV-A13 68095","nt":5987,"pct":91.7},{"series":"CV-A13 68095","nt":6025,"pct":98.2},{"series":"CV-A13 68095","nt":6062,"pct":93.6},{"series":"CV-A13 68095","nt":6100,"pct":64.2},{"series":"CV-A13 68095","nt":6137,"pct":37.6},{"series":"CV-A13 68095","nt":6175,"pct":56.9},{"series":"CV-A13 68095","nt":6212,"pct":73.4},{"series":"CV-A13 68095","nt":6262,"pct":89.9},{"series":"CV-A13 68095","nt":6312,"pct":94.5},{"series":"CV-A13 68095","nt":6337,"pct":98.2},{"series":"CV-A13 68095","nt":6387,"pct":95.4},{"series":"CV-A13 68095","nt":6462,"pct":97.2},{"series":"CV-A13 68095","nt":6537,"pct":99.1},{"series":"CV-A13 68095","nt":6637,"pct":99.1},{"series":"CV-A13 68095","nt":6687,"pct":98.2},{"series":"CV-A13 68095","nt":6712,"pct":86.2},{"series":"CV-A13 68095","nt":6737,"pct":58.7},{"series":"CV-A13 68095","nt":6775,"pct":38.5},{"series":"CV-A13 68095","nt":6812,"pct":16.5},{"series":"CV-A13 68095","nt":6850,"pct":9.2},{"series":"CV-A13 68095","nt":6887,"pct":5.5},{"series":"CV-A13 68095","nt":6937,"pct":1.8},{"series":"CV-A13 68095","nt":7012,"pct":11.0},{"series":"CV-A13 68095","nt":7062,"pct":20.2},{"series":"CV-A13 68095","nt":7100,"pct":44.0},{"series":"CV-A13 68095","nt":7137,"pct":66.1},{"series":"CV-A13 68095","nt":7187,"pct":71.6},{"series":"CV-A13 68095","nt":7225,"pct":84.4},{"series":"CV-A13 68095","nt":7262,"pct":89.0},{"series":"CV-A13 68095","nt":7300,"pct":90.8},{"series":"CV-A13 68095","nt":7337,"pct":64.2},{"series":"CV-A13 68095","nt":7387,"pct":49.5},{"series":"CV-A13 68095","nt":7437,"pct":44.0},{"series":"CV-A13 68095","nt":7475,"pct":33.0},{"series":"CV-A13 68095","nt":7512,"pct":22.0},{"series":"CV-A13 68095","nt":7562,"pct":15.6},
    {"series":"CV-A13 67900","nt":87,"pct":0},{"series":"CV-A13 67900","nt":5790,"pct":0},{"series":"CV-A13 67900","nt":5812,"pct":1.8},{"series":"CV-A13 67900","nt":5850,"pct":12.8},{"series":"CV-A13 67900","nt":5887,"pct":23.9},{"series":"CV-A13 67900","nt":5925,"pct":1.8},{"series":"CV-A13 67900","nt":5950,"pct":0},{"series":"CV-A13 67900","nt":6762,"pct":0.9},{"series":"CV-A13 67900","nt":6837,"pct":18.3},{"series":"CV-A13 67900","nt":6887,"pct":44},{"series":"CV-A13 67900","nt":6917,"pct":73.4},{"series":"CV-A13 67900","nt":6950,"pct":44},{"series":"CV-A13 67900","nt":6975,"pct":5.5},{"series":"CV-A13 67900","nt":7037,"pct":0},{"series":"CV-A13 67900","nt":7137,"pct":1.8},{"series":"CV-A13 67900","nt":7212,"pct":0.9},{"series":"CV-A13 67900","nt":7287,"pct":1.8},{"series":"CV-A13 67900","nt":7387,"pct":5.5},{"series":"CV-A13 67900","nt":7450,"pct":18.3},{"series":"CV-A13 67900","nt":7487,"pct":3.7},{"series":"CV-A13 67900","nt":7537,"pct":0.9},{"series":"CV-A13 67900","nt":7562,"pct":1}
  ]
},
"vconcat": [
  {
    "width": 1025, "height": 191,
    "title": {"text": "MAD004 scanned against Sabin 2, HEV-99 68229, CV-A17 67610, CV-A17 67591, CV-A13 67900 and CV-A13 68095.", "fontSize": 17, "fontStyle": "italic", "fontWeight": "bold", "anchor": "middle", "offset": 11, "dx": -11},
    "resolve": {"axis": {"x": "independent", "y": "independent"}},
    "layer": [
      {"data": {"name": "backbone"}, "mark": {"type": "rule", "color": "#000", "strokeWidth": 1.5},
       "encoding": {"x": {"field": "from", "type": "quantitative", "scale": {"domain": [-8, 7682]}, "axis": null}, "x2": {"field": "to"}, "y": {"datum": 75.4, "type": "quantitative", "scale": {"domain": [48.35, 100.9]}, "axis": null}}},
      {"data": {"name": "genes"}, "transform": [{"filter": "datum.region == 'P1'"}], "mark": {"type": "rect", "fill": "#808080", "stroke": "#000", "strokeWidth": 1.5},
       "encoding": {"x": {"field": "start", "type": "quantitative", "scale": {"domain": [-8, 7682]}, "axis": null}, "x2": {"field": "end"}, "y": {"datum": 69.8, "type": "quantitative", "scale": {"domain": [48.35, 100.9]}, "axis": null}, "y2": {"datum": 81.0}}},
      {"data": {"name": "genes"}, "transform": [{"filter": "datum.region == 'P2'"}], "mark": {"type": "rect", "fill": "#c8c8c8", "stroke": "#000", "strokeWidth": 1.5},
       "encoding": {"x": {"field": "start", "type": "quantitative", "scale": {"domain": [-8, 7682]}, "axis": null}, "x2": {"field": "end"}, "y": {"datum": 69.8, "type": "quantitative", "scale": {"domain": [48.35, 100.9]}, "axis": null}, "y2": {"datum": 81.0}}},
      {"data": {"name": "genes"}, "transform": [{"filter": "datum.region == 'P3'"}], "mark": {"type": "rect", "fill": "#ffffff", "stroke": "#000", "strokeWidth": 1.5},
       "encoding": {"x": {"field": "start", "type": "quantitative", "scale": {"domain": [-8, 7682]}, "axis": null}, "x2": {"field": "end"}, "y": {"datum": 69.8, "type": "quantitative", "scale": {"domain": [48.35, 100.9]}, "axis": null}, "y2": {"datum": 81.0}}},
      {"data": {"name": "genes"}, "transform": [{"filter": "datum.gene != 'VP4' && datum.gene != '3B'"}, {"calculate": "(datum.start + datum.end) / 2", "as": "mid"}],
       "mark": {"type": "text", "fontSize": 19, "fontWeight": "bold", "baseline": "middle", "color": "#111"},
       "encoding": {"x": {"field": "mid", "type": "quantitative", "scale": {"domain": [-8, 7682]}, "axis": null}, "y": {"datum": 75.4, "type": "quantitative", "scale": {"domain": [48.35, 100.9]}, "axis": null}, "text": {"field": "gene", "type": "nominal"}}},
      {"data": {"name": "identity"}, "mark": {"type": "line", "strokeWidth": 2, "clip": true},
       "encoding": {
         "x": {"field": "nt", "type": "quantitative", "scale": {"domain": [-8, 7682]}, "axis": null},
         "y": {"field": "pct", "type": "quantitative", "scale": {"domain": [48.35, 100.9]}, "axis": {"orient": "left", "values": [50, 60, 70, 80, 90, 100], "title": "Pairwise Identity (%)"}},
         "color": {"field": "series", "type": "nominal", "scale": {"domain": ["Sabin 2", "HEV-99 68229", "CV-A17 67610", "CV-A17 67591", "CV-A13 67900", "CV-A13 68095"], "range": ["#1414f0", "#000000", "#8c8c8c", "#f01414", "#1a7f3c", "#ff8a1c"]},
           "legend": {"orient": "none", "legendX": 247, "legendY": -51, "direction": "horizontal", "symbolType": "M-10,0H10", "symbolSize": 100, "symbolStrokeWidth": 6, "labelExpr": "''", "labelOffset": 0, "columnPadding": 7, "title": null, "padding": 0}}
       }}
    ]
  },
  {
    "width": 1025, "height": 192,
    "resolve": {"axis": {"x": "independent", "y": "independent"}},
    "layer": [
      {"data": {"name": "backbone"}, "mark": {"type": "rule", "color": "#000", "strokeWidth": 1.5},
       "encoding": {"x": {"field": "from", "type": "quantitative", "scale": {"domain": [-8, 7682]}, "axis": null}, "x2": {"field": "to"}, "y": {"datum": 50.4, "type": "quantitative", "scale": {"domain": [-3.1, 102.4]}, "axis": null}}},
      {"data": {"name": "genes"}, "transform": [{"filter": "datum.region == 'P1'"}], "mark": {"type": "rect", "fill": "#808080", "stroke": "#000", "strokeWidth": 1.5},
       "encoding": {"x": {"field": "start", "type": "quantitative", "scale": {"domain": [-8, 7682]}, "axis": null}, "x2": {"field": "end"}, "y": {"datum": 39.4, "type": "quantitative", "scale": {"domain": [-3.1, 102.4]}, "axis": null}, "y2": {"datum": 62.0}}},
      {"data": {"name": "genes"}, "transform": [{"filter": "datum.region == 'P2'"}], "mark": {"type": "rect", "fill": "#c8c8c8", "stroke": "#000", "strokeWidth": 1.5},
       "encoding": {"x": {"field": "start", "type": "quantitative", "scale": {"domain": [-8, 7682]}, "axis": null}, "x2": {"field": "end"}, "y": {"datum": 39.4, "type": "quantitative", "scale": {"domain": [-3.1, 102.4]}, "axis": null}, "y2": {"datum": 62.0}}},
      {"data": {"name": "genes"}, "transform": [{"filter": "datum.region == 'P3'"}], "mark": {"type": "rect", "fill": "#ffffff", "stroke": "#000", "strokeWidth": 1.5},
       "encoding": {"x": {"field": "start", "type": "quantitative", "scale": {"domain": [-8, 7682]}, "axis": null}, "x2": {"field": "end"}, "y": {"datum": 39.4, "type": "quantitative", "scale": {"domain": [-3.1, 102.4]}, "axis": null}, "y2": {"datum": 62.0}}},
      {"data": {"name": "genes"}, "transform": [{"filter": "datum.gene != 'VP4' && datum.gene != '3B'"}, {"calculate": "(datum.start + datum.end) / 2", "as": "mid"}],
       "mark": {"type": "text", "fontSize": 19, "fontWeight": "bold", "baseline": "middle", "color": "#111"},
       "encoding": {"x": {"field": "mid", "type": "quantitative", "scale": {"domain": [-8, 7682]}, "axis": null}, "y": {"datum": 50.4, "type": "quantitative", "scale": {"domain": [-3.1, 102.4]}, "axis": null}, "text": {"field": "gene", "type": "nominal"}}},
      {"data": {"name": "bootstrap"}, "mark": {"type": "line", "strokeWidth": 2, "clip": true},
       "encoding": {
         "x": {"field": "nt", "type": "quantitative", "scale": {"domain": [-8, 7682]}, "axis": {"orient": "bottom", "values": [1000, 2000, 3000, 4000, 5000, 6000, 7000], "format": "d", "title": "Position (nt)"}},
         "y": {"field": "pct", "type": "quantitative", "scale": {"domain": [-3.1, 102.4]}, "axis": {"orient": "left", "values": [0, 25, 50, 75, 100], "title": "Bootstrap Support (%)"}},
         "color": {"field": "series", "type": "nominal", "scale": {"domain": ["Sabin 2", "HEV-99 68229", "CV-A17 67610", "CV-A17 67591", "CV-A13 67900", "CV-A13 68095"], "range": ["#1414f0", "#000000", "#8c8c8c", "#f01414", "#1a7f3c", "#ff8a1c"]}, "legend": null}
       }},
      {"data": {"name": "hotspot"}, "mark": {"type": "rect", "fillOpacity": 0, "stroke": "#000", "strokeWidth": 1.5, "strokeDash": [5, 4], "clip": false},
       "encoding": {"x": {"field": "start", "type": "quantitative", "scale": {"domain": [-8, 7682]}, "axis": null}, "x2": {"field": "end"}, "y": {"datum": -30.2, "type": "quantitative", "scale": {"domain": [-3.1, 102.4]}, "axis": null}, "y2": {"datum": 221.9}}},
      {"data": {"name": "hotspot"}, "transform": [{"calculate": "(datum.start + datum.end) / 2", "as": "mid"}], "mark": {"type": "text", "text": ["HS", "2C"], "lineHeight": 25, "fontSize": 19, "fontWeight": "bold", "baseline": "alphabetic", "clip": false},
       "encoding": {"x": {"field": "mid", "type": "quantitative", "scale": {"domain": [-8, 7682]}, "axis": null}, "y": {"datum": -50.5, "type": "quantitative", "scale": {"domain": [-3.1, 102.4]}, "axis": null}}}
    ]
  }
]
}
